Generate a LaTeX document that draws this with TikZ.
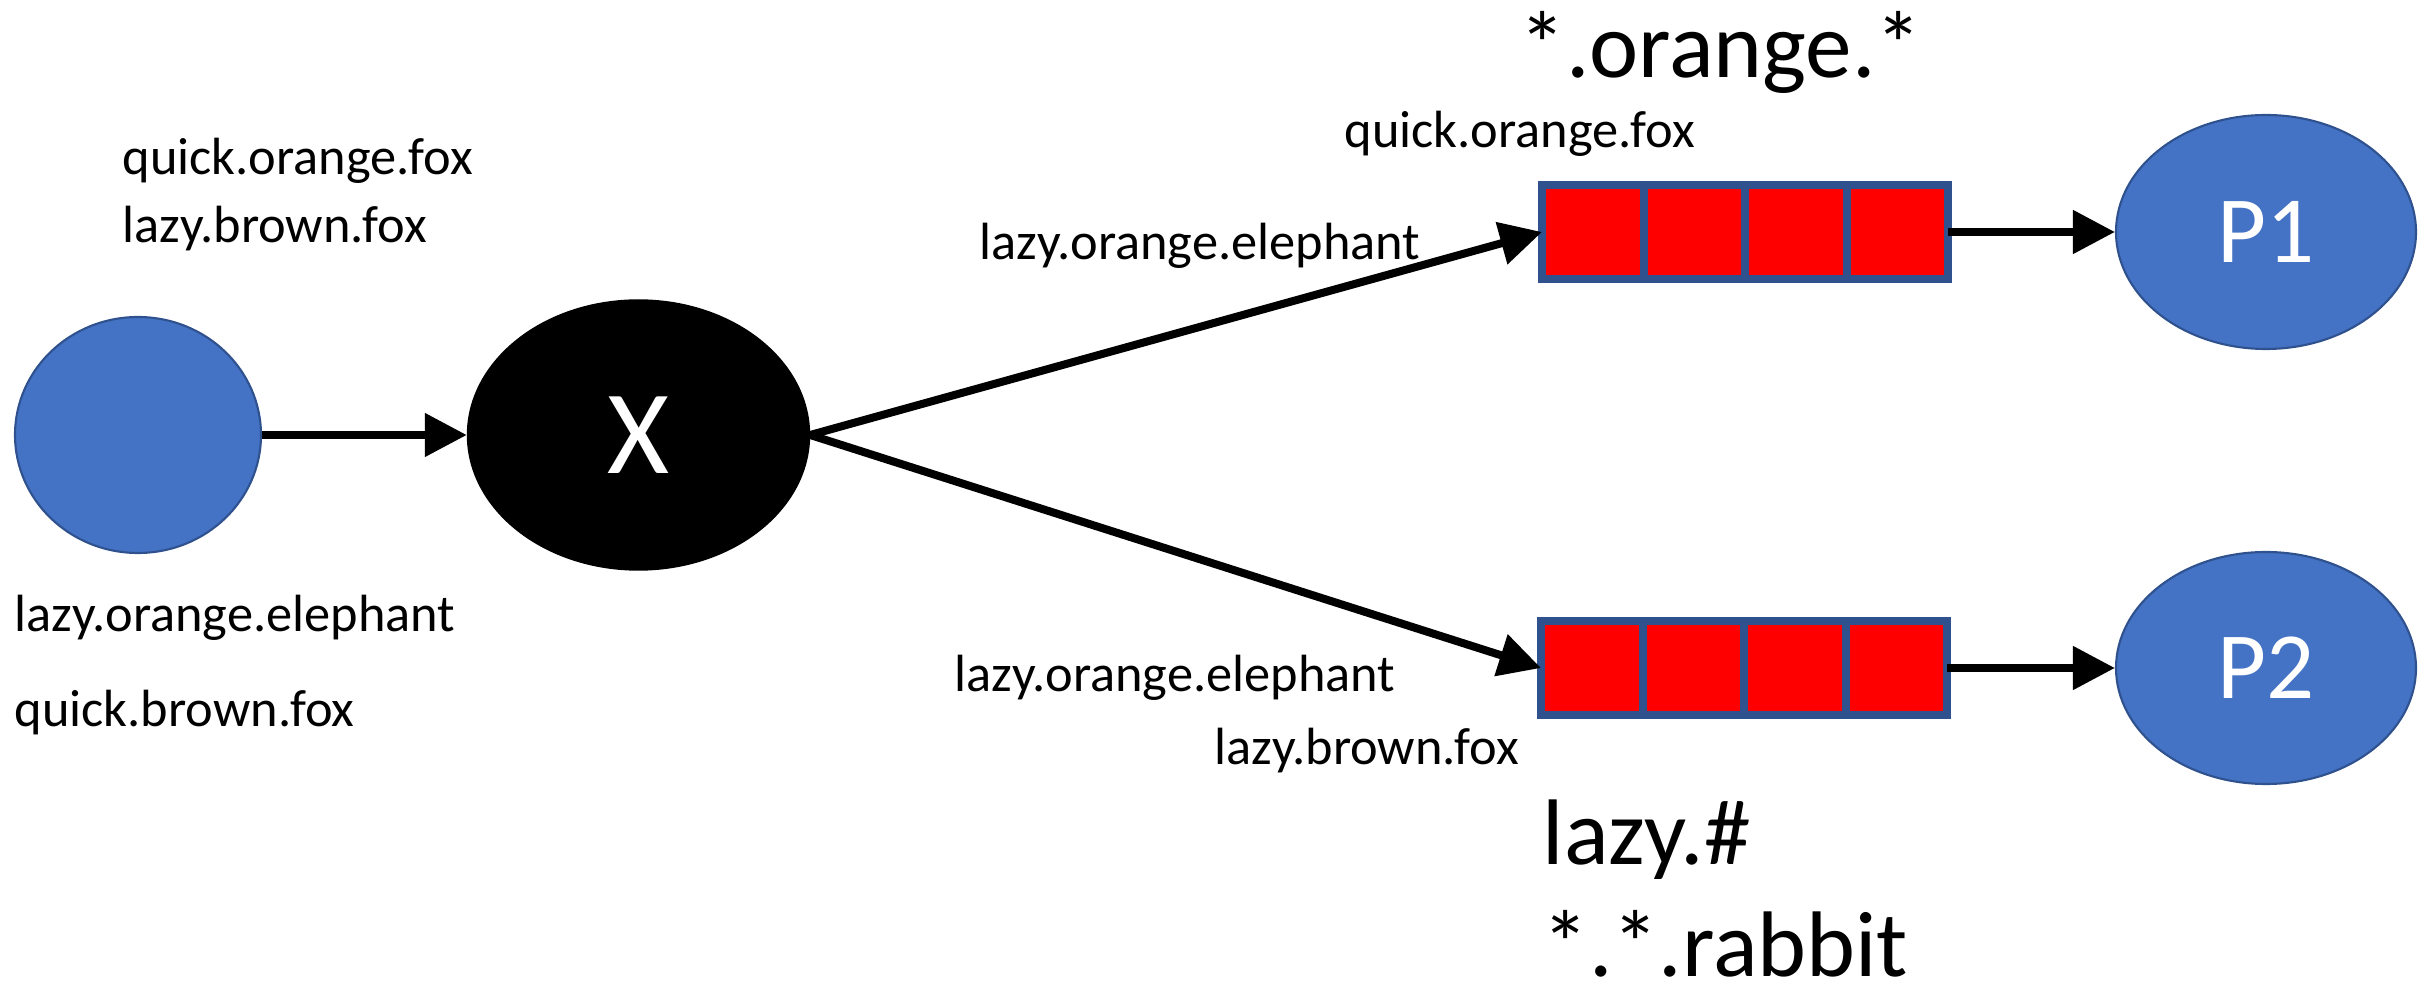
\documentclass[tikz,border=0pt]{standalone}
\usepackage{fontspec}
\setmainfont{Carlito}
\usetikzlibrary{shapes.geometric,arrows.meta,positioning}
\definecolor{qblue}{HTML}{4472C4}
\definecolor{qedge}{HTML}{2F528F}
\definecolor{qred}{HTML}{FF0000}

\begin{document}
\begin{tikzpicture}[
  client/.style={ellipse,draw=qedge,fill=qblue,line width=0.6pt,text=white,font=\fontsize{27}{32}\selectfont},
  exch/.style={ellipse,draw,fill=black,text=white,minimum width=3.42cm,minimum height=2.7cm,font=\fontsize{34}{40}\selectfont},
  cell/.style={rectangle,draw=qedge,fill=qred,line width=0.08cm,minimum width=1.015cm,minimum height=0.94cm,outer sep=0pt,inner sep=0pt},
  msg/.style={anchor=base west,inner sep=0pt,font=\fontsize{14.9}{18}\selectfont},
  key/.style={anchor=base west,inner sep=0pt,font=\fontsize{26.5}{32}\selectfont},
  link/.style={line width=0.08cm,-{Triangle[length=0.42cm,width=0.42cm]}}
  ]
    \useasboundingbox (0,0) rectangle (24.3,9.87);

    \node[client,minimum width=2.46cm,minimum height=2.36cm] (prod) at (1.38,5.52) {};
    \node[exch] (X) at (6.385,5.52) {X};

    % the two queues, four cells each
    \node[cell,anchor=west] (q1c1) at (15.42,7.55) {};
    \node[cell,anchor=west] (q2c1) at (15.41,3.19) {};
    \foreach \q in {1,2}
      \foreach \i [count=\j from 2] in {1,2,3}
        \node[cell,right=0pt of q\q c\i] (q\q c\j) {};

    \node[client,minimum width=3.0cm,minimum height=2.34cm] (P1) at (22.66,7.55) {P1};
    \node[client,minimum width=3.0cm,minimum height=2.32cm] (P2) at (22.66,3.19) {P2};

    \draw[link] (prod.east) -- (X.west);
    \draw[link] (X.east) -- (q1c1.west);
    \draw[link] (X.east) -- (q2c1.west);
    \draw[link] (q1c4.east) -- (P1.west);
    \draw[link] (q2c4.east) -- (P2.west);

    % routing keys and messages
    \node[msg] (m1) at (1.22,8.12) {quick.orange.fox};
    \node[msg] (m2) at (1.22,7.44) {lazy.brown.fox};
    \node[msg] (m3) at (0.14,3.55) {lazy.orange.elephant};
    \node[msg] (m4) at (0.14,2.60) {quick.brown.fox};
    \node[msg] (m5) at (13.44,8.39) {quick.orange.fox};
    \node[msg] (m6) at (9.79,7.27) {lazy.orange.elephant};
    \node[msg] (m7) at (9.54,2.95) {lazy.orange.elephant};
    \node[msg] (m8) at (12.14,2.22) {lazy.brown.fox};

    \node[key] (k1) at (15.19,9.09) {*.orange.*};
    \node[key] (k2) at (15.42,1.22) {lazy.\#};
    \node[key] (k3) at (15.42,0.11) {*.*.rabbit};
\end{tikzpicture}
\end{document}
